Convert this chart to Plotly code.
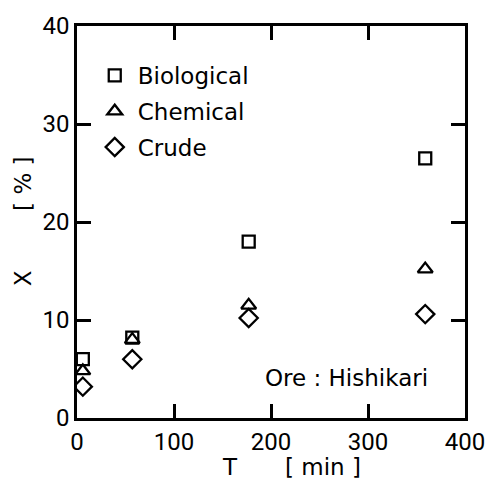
import plotly.graph_objects as go

# Leaching time (min) and extraction X (%) for the Hishikari ore
time_min = [6, 57, 177, 359]
biological = [6.0, 8.2, 18.0, 26.5]
chemical = [4.8, 8.0, 11.5, 15.2]
crude = [3.2, 6.0, 10.2, 10.6]

x_ticks = [0, 100, 200, 300, 400]
y_ticks = [0, 10, 20, 30, 40]

TEXT_FONT = "DejaVu Sans"
NUM_FONT = "Roboto"
INK = "black"

W, H = 497, 480
ML, MR, MT, MB = 77, 24, 23, 62

fig = go.Figure()

series = [
    ("Biological", biological, "square-open", 12),
    ("Chemical", chemical, "triangle-up-open", 13),
    ("Crude", crude, "diamond-open", 14),
]
for name, vals, sym, size in series:
    fig.add_trace(go.Scatter(
        x=time_min, y=vals, mode="markers", name=name, legendgroup=name,
        marker=dict(symbol=sym, size=size, color=INK, line=dict(width=2.3, color=INK)),
    ))

axis_common = dict(
    showline=True, linewidth=2.5, linecolor=INK, mirror="ticks",
    ticks="inside", ticklen=14, tickwidth=2.5, tickcolor=INK,
    showgrid=False, zeroline=False,
    tickfont=dict(family=NUM_FONT, size=24, color=INK),
)

fig.update_xaxes(range=[0, 400], tickvals=x_ticks, ticktext=[str(v) for v in x_ticks],
                 **axis_common)
fig.update_yaxes(range=[0, 40], tickvals=y_ticks, ticktext=[str(v) for v in y_ticks],
                 **axis_common)


def page_label(text, px, py, size=23, angle=0):
    """Free label placed by page pixel position."""
    return dict(
        text=text, xref="paper", yref="paper",
        x=(px - ML) / (W - ML - MR), y=(H - MB - py) / (H - MT - MB),
        xanchor="center", yanchor="middle", showarrow=False, textangle=angle,
        font=dict(family=TEXT_FONT, size=size, color=INK),
    )


fig.update_layout(
    width=W, height=H,
    margin=dict(l=ML, r=MR, t=MT, b=MB),
    paper_bgcolor="white", plot_bgcolor="white",
    font=dict(family=TEXT_FONT, size=23, color=INK),
    showlegend=True,
    legend=dict(x=0.038, y=0.929, xanchor="left", yanchor="top",
                bgcolor="rgba(0,0,0,0)", tracegroupgap=3, itemwidth=36,
                font=dict(family=TEXT_FONT, size=23, color=INK)),
    annotations=[
        page_label("Ore : Hishikari", 352, 378),
        page_label("T", 233, 467),
        page_label("[ min ]", 328, 467),
        page_label("X", 22, 277, angle=-90),
        page_label("[ % ]", 22, 182, angle=-90),
    ],
)

fig.write_html("out.html")
